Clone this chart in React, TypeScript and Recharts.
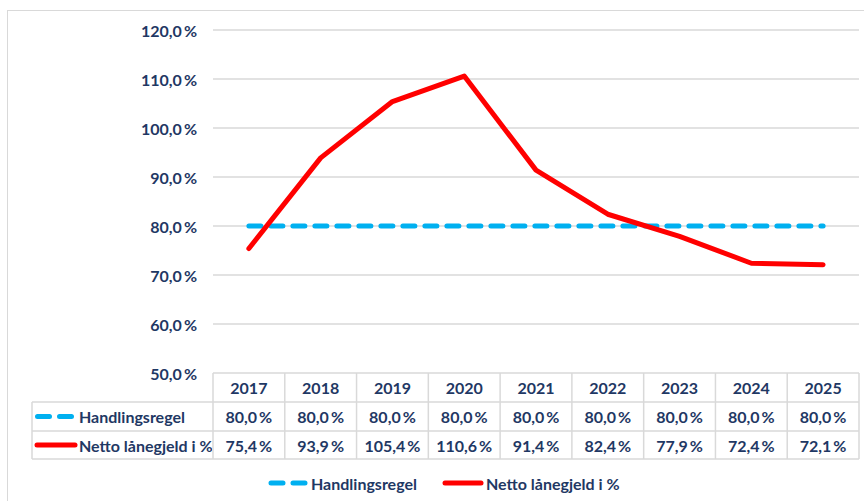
import React from "react";
import { LineChart, Line, XAxis, YAxis, CartesianGrid } from "recharts";

const years = ["2017", "2018", "2019", "2020", "2021", "2022", "2023", "2024", "2025"];
const handlingsregel = [80.0, 80.0, 80.0, 80.0, 80.0, 80.0, 80.0, 80.0, 80.0];
const nettoLanegjeld = [75.4, 93.9, 105.4, 110.6, 91.4, 82.4, 77.9, 72.4, 72.1];
const yTicks = [50, 60, 70, 80, 90, 100, 110, 120];
const seriesNames = ["Handlingsregel", "Netto lånegjeld i %"];

const BLUE = "#00B0F0";
const RED = "#FF0000";
const TEXT = "#1F3864";
const GRID = "#D9D9D9";
const FONT = "Lato, 'Noto Sans', sans-serif";

const W = 864;
const H = 501;
const PLOT_LEFT = 213;
const PLOT_RIGHT = 859;
const PLOT_TOP = 30;
const PLOT_BOTTOM = 373;
const COL_W = (PLOT_RIGHT - PLOT_LEFT) / years.length;
const ROW1 = 402;
const ROW2 = 431;
const ROW3 = 459;
const TABLE_LEFT = 32;

const fmt = (v: number) => v.toFixed(1).replace(".", ",") + "\u2009%";

const data = years.map((y, i) => ({
  year: y,
  handlingsregel: handlingsregel[i],
  netto: nettoLanegjeld[i],
}));

const textStyle = { fontFamily: FONT, fontWeight: 700, fontSize: 16, fill: TEXT } as const;

const TableTick = (props: any) => {
  const { x, payload, index } = props;
  const i = typeof index === "number" ? index : payload.index;
  const left = x - COL_W / 2;
  const right = x + COL_W / 2;
  return (
    <g>
      {i === 0 && (
        <g>
          <line x1={TABLE_LEFT} x2={PLOT_RIGHT} y1={ROW1} y2={ROW1} stroke={GRID} strokeWidth={1.5} />
          <line x1={TABLE_LEFT} x2={PLOT_RIGHT} y1={ROW2} y2={ROW2} stroke={GRID} strokeWidth={1.5} />
          <line x1={TABLE_LEFT} x2={PLOT_RIGHT} y1={ROW3} y2={ROW3} stroke={GRID} strokeWidth={1.5} />
          <line x1={TABLE_LEFT} x2={TABLE_LEFT} y1={ROW1} y2={ROW3} stroke={GRID} strokeWidth={1.5} />
          <line x1={35} x2={73} y1={(ROW1 + ROW2) / 2} y2={(ROW1 + ROW2) / 2} stroke={BLUE} strokeWidth={5} strokeDasharray="12 10" strokeLinecap="round" transform="translate(2.5,0)" />
          <text x={79} y={(ROW1 + ROW2) / 2} dominantBaseline="central" {...textStyle}>{seriesNames[0]}</text>
          <line x1={37} x2={75} y1={(ROW2 + ROW3) / 2} y2={(ROW2 + ROW3) / 2} stroke={RED} strokeWidth={5} strokeLinecap="round" />
          <text x={79} y={(ROW2 + ROW3) / 2} dominantBaseline="central" {...textStyle}>{seriesNames[1]}</text>
        </g>
      )}
      <line x1={left} x2={left} y1={PLOT_BOTTOM} y2={ROW3} stroke={GRID} strokeWidth={1.5} />
      {i === years.length - 1 && (
        <line x1={right} x2={right} y1={PLOT_BOTTOM} y2={ROW3} stroke={GRID} strokeWidth={1.5} />
      )}
      <text x={x} y={(PLOT_BOTTOM + ROW1) / 2} textAnchor="middle" dominantBaseline="central" {...textStyle}>{payload.value}</text>
      <text x={x} y={(ROW1 + ROW2) / 2} textAnchor="middle" dominantBaseline="central" {...textStyle}>{fmt(handlingsregel[i])}</text>
      <text x={x} y={(ROW2 + ROW3) / 2} textAnchor="middle" dominantBaseline="central" {...textStyle}>{fmt(nettoLanegjeld[i])}</text>
    </g>
  );
};

const YTick = (props: any) => {
  const { x, y, payload } = props;
  return (
    <text x={x} y={y} textAnchor="end" dominantBaseline="central" {...textStyle}>{fmt(payload.value)}</text>
  );
};

export default function App() {
  return (
    <div style={{ position: "absolute", left: 0, top: 0, width: W, height: H, background: "#fff", overflow: "hidden" }}>
      <div style={{ position: "absolute", left: 7, top: 10, width: W, height: H, borderLeft: "1.5px solid #D9D9D9", borderTop: "1.5px solid #D9D9D9" }} />
      <div style={{ position: "absolute", left: 0, top: 0 }}>
        <LineChart width={W} height={H} data={data} margin={{ top: PLOT_TOP, right: W - PLOT_RIGHT, bottom: 0, left: 0 }}>
          <CartesianGrid vertical={false} stroke={GRID} strokeWidth={1.5} />
          <XAxis dataKey="year" scale="band" axisLine={false} tickLine={false} height={H - PLOT_BOTTOM} tick={<TableTick />} interval={0} />
          <YAxis domain={[50, 120]} ticks={yTicks} width={PLOT_LEFT} axisLine={false} tickLine={false} tickSize={0} tickMargin={16} tick={<YTick />} interval={0} />
          <Line dataKey="handlingsregel" name={seriesNames[0]} stroke={BLUE} strokeWidth={5} strokeDasharray="12 10" strokeLinecap="round" dot={false} isAnimationActive={false} />
          <Line dataKey="netto" name={seriesNames[1]} stroke={RED} strokeWidth={5} strokeLinecap="round" strokeLinejoin="round" dot={false} isAnimationActive={false} />
        </LineChart>
      </div>
      <div style={{ position: "absolute", left: 0, top: 0, pointerEvents: "none" }}>
        <svg width={W} height={H}>
          <line x1={270} x2={306} y1={483} y2={483} stroke={BLUE} strokeWidth={5} strokeDasharray="12 10" strokeLinecap="round" transform="translate(1,0)" />
          <text x={311} y={483} dominantBaseline="central" {...textStyle}>{seriesNames[0]}</text>
          <line x1={445} x2={481} y1={483} y2={483} stroke={RED} strokeWidth={5} strokeLinecap="round" />
          <text x={486} y={483} dominantBaseline="central" {...textStyle}>{seriesNames[1]}</text>
        </svg>
      </div>
    </div>
  );
}
